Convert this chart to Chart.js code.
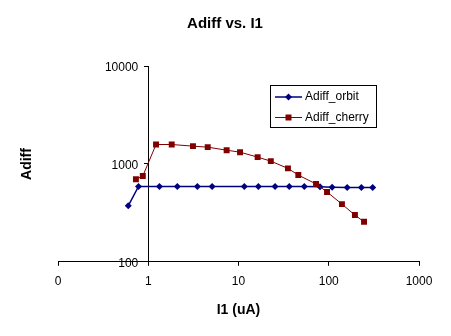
<!DOCTYPE html>
<html>
<head>
<meta charset="utf-8">
<script src="https://cdn.jsdelivr.net/npm/chart.js@4/dist/chart.umd.min.js"></script>
<style>
html, body { margin: 0; padding: 0; background: #fff; }
</style>
</head>
<body>
<canvas id="adiff" width="451" height="336"></canvas>
<script>
// I1 in uA, Adiff
var orbitI1 = [0.6, 0.78, 1.33, 2.1, 3.5, 5.1, 11.6, 16.6, 25.4, 36.5, 53.6, 80, 109, 160, 230, 307];
var orbitAdiff = [373, 588, 588, 588, 588, 588, 588, 588, 588, 587, 586, 584, 578, 575, 574, 573];

var cherryI1 = [0.73, 0.87, 1.22, 1.82, 3.13, 4.56, 7.39, 10.4, 16.3, 22.8, 35.3, 46, 72.3, 95.7, 140, 195, 246];
var cherryAdiff = [697, 752, 1578, 1578, 1518, 1483, 1380, 1318, 1172, 1067, 900, 769, 624, 517, 388, 300, 256];

var xTicks = [0.1, 1, 10, 100, 1000];
var xTickLabels = ["0", "1", "10", "100", "1000"];
var yTicks = [100, 1000, 10000];

var FONT = "'Liberation Sans', Arial, sans-serif";

function pts(xs, ys) {
    return xs.map(function (x, i) { return { x: x, y: ys[i] }; });
}

// chart title is centred on the whole picture, y title sits far left
// away from the axis line at x=1
var titles = {
    id: 'titles',
    afterDraw: function (chart) {
        var ctx = chart.ctx;
        ctx.save();
        ctx.fillStyle = "#000";
        ctx.textAlign = "center";
        ctx.textBaseline = "middle";
        ctx.font = "bold 15px " + FONT;
        ctx.fillText("Adiff vs. I1", 225, 24);
        ctx.translate(27, 164);
        ctx.rotate(-Math.PI / 2);
        ctx.font = "bold 14px " + FONT;
        ctx.fillText("Adiff", 0, 0);
        ctx.restore();
    }
};

// boxed legend inside the plot, like the Excel one
var boxLegend = {
    id: 'boxLegend',
    afterDraw: function (chart) {
        var ctx = chart.ctx;
        ctx.save();
        ctx.fillStyle = "#fff";
        ctx.fillRect(270, 85, 107, 43);
        ctx.strokeStyle = "#000";
        ctx.lineWidth = 1;
        ctx.strokeRect(270.5, 85.5, 106, 42);
        chart.data.datasets.forEach(function (ds, i) {
            var y = 97 + i * 20.5;
            ctx.strokeStyle = ds.borderColor;
            ctx.lineWidth = ds.borderWidth;
            ctx.beginPath();
            ctx.moveTo(275, y);
            ctx.lineTo(302, y);
            ctx.stroke();
            ctx.fillStyle = ds.backgroundColor;
            ctx.beginPath();
            if (ds.pointStyle == 'rectRot') {
                ctx.moveTo(288.5, y - 3.5);
                ctx.lineTo(292, y);
                ctx.lineTo(288.5, y + 3.5);
                ctx.lineTo(285, y);
                ctx.closePath();
            } else {
                ctx.rect(285.5, y - 3, 6, 6);
            }
            ctx.fill();
            ctx.fillStyle = "#000";
            ctx.font = "12px " + FONT;
            ctx.textBaseline = "middle";
            ctx.fillText(ds.label, 305, y);
        });
        ctx.restore();
    }
};

var ctx = document.getElementById("adiff").getContext('2d');
var myChart = new Chart(ctx, {
    type: 'scatter',
    data: {
        datasets: [{
            label: "Adiff_orbit",
            data: pts(orbitI1, orbitAdiff),
            showLine: true,
            borderColor: "#000080",
            backgroundColor: "#000080",
            borderWidth: 1.5,
            pointStyle: 'rectRot',
            pointRadius: 3.5,
            pointBorderWidth: 0,
            order: 1
        }, {
            label: "Adiff_cherry",
            data: pts(cherryI1, cherryAdiff),
            showLine: true,
            borderColor: "#800000",
            backgroundColor: "#800000",
            borderWidth: 1,
            pointStyle: 'rect',
            pointRadius: 4.2,
            pointBorderWidth: 0,
            order: 0
        }]
    },
    options: {
        responsive: false,
        animation: false,
        devicePixelRatio: 1,
        layout: { padding: { top: 66, left: 58, right: 32, bottom: 14 } },
        plugins: {
            legend: { display: false },
            tooltip: { enabled: false },
            title: { display: false }
        },
        scales: {
            x: {
                type: 'logarithmic',
                position: 'bottom',
                min: 0.1,
                max: 1000,
                afterBuildTicks: function (s) {
                    s.ticks = xTicks.map(function (v) { return { value: v }; });
                },
                ticks: {
                    autoSkip: false,
                    maxRotation: 0,
                    color: "#000",
                    font: { family: FONT, size: 12 },
                    padding: 9,
                    callback: function (v, i) { return xTickLabels[i]; }
                },
                grid: { drawOnChartArea: false, tickLength: 4, color: "#000" },
                border: { color: "#000", width: 1 },
                title: {
                    display: true,
                    text: "I1 (uA)",
                    color: "#000",
                    font: { family: FONT, size: 14, weight: 'bold' },
                    padding: { top: 4, bottom: 3 }
                }
            },
            y: {
                type: 'logarithmic',
                position: { x: 1 },
                min: 100,
                max: 10000,
                afterBuildTicks: function (s) {
                    s.ticks = yTicks.map(function (v) { return { value: v }; });
                },
                ticks: {
                    color: "#000",
                    font: { family: FONT, size: 12 },
                    labelOffset: 2,
                    // labels are drawn right on the axis line, so pad with spaces
                    callback: function (v) { return String(v) + "   "; }
                },
                grid: { drawOnChartArea: false, tickLength: 4, color: "#000" },
                border: { color: "#000", width: 1 }
            }
        }
    },
    plugins: [titles, boxLegend]
});
</script>
</body>
</html>
